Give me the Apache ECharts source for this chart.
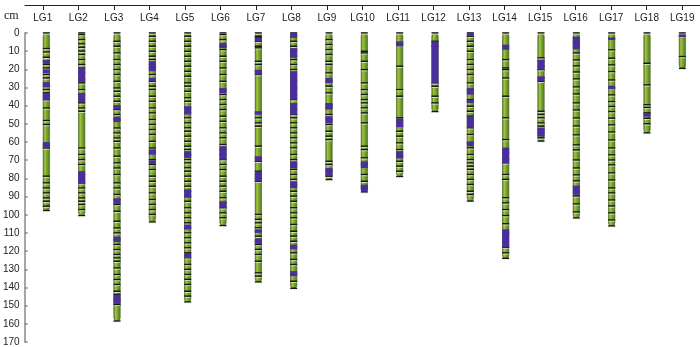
<!DOCTYPE html>
<html>
<head>
<meta charset="utf-8">
<script src="https://cdn.jsdelivr.net/npm/echarts@6/dist/echarts.min.js"></script>
<style>html,body{margin:0;padding:0;background:#fff}#c{width:700px;height:347px}</style>
</head>
<body>
<div id="c"></div>
<script>
const categories = ['LG1','LG2','LG3','LG4','LG5','LG6','LG7','LG8','LG9','LG10','LG11','LG12','LG13','LG14','LG15','LG16','LG17','LG18','LG19'];
const yTicks = [0,10,20,30,40,50,60,70,80,90,100,110,120,130,140,150,160,170];
const lengths = [97.7,100.5,158.5,104,148,106,137,140.5,80.7,87.5,79,43.3,92.5,124,59.5,101.8,106.2,55,19.5];

const lg1Markers = [0,8.6,10.5,13.4,15.6,17.4,19.3,22.9,24.8,29.3,31.2,33,34.8,36.7,41.3,48.2,50.4,61.8,63.3,78.8,82.5,85.3,88,90.8,92.6,95.3,97.7];
const lg2Markers = [0,0.9,3.7,6,7.9,10,11.9,14.7,17.4,19.3,22,25.7,27.5,31.2,33.9,38.5,41.3,43.1,63.3,66.9,69.7,72.4,77.9,82.5,85.3,88,90.8,92.6,94.4,97.2,100.5];
const lg3Markers = [0,4.6,7.3,11,14.7,17.4,20.2,22.9,26.6,30.3,32.1,34.8,37.6,40.3,42.2,44.9,47.7,52.3,55,57.8,59.6,63.3,67.8,71.5,74.3,77.9,82.5,85.3,88.9,91.7,94.4,98.1,103.6,107.3,110,113.7,116.4,119.2,121.9,123.8,125.6,129.3,132.9,135.7,138.4,142.1,143.9,146.7,149.4,158.5];
const lg4Markers = [0,1.8,4.6,7.3,10.1,12.8,14.7,17.4,19.3,22.9,26.6,29.3,31.2,34.8,37.6,41.3,44,47.7,50.4,53.2,55.9,59.6,63.3,66,69.7,72.4,75.2,78.8,81.6,84.3,88,91.7,94.4,97.2,99.9,104];
const lg5Markers = [0,1.8,4.6,7.3,10.1,12.8,15.6,18.3,21.1,23.8,27.5,29.3,32.1,35.7,37.6,41.2,44,46.7,49.5,52.2,54.1,56.8,59.6,62.3,64.2,66.9,69.7,71.5,74.2,76.1,78.8,81.6,84.3,87.1,89.8,92.6,96.2,99,101.7,104.5,107.2,110,112.7,115.5,118.2,121,123.7,127.4,130.1,132.9,135.6,138.4,142.1,144.8,148];
const lg6Markers = [0,0.9,3.7,7.3,9.2,12.8,15.6,19.3,22.9,26.6,31.2,33.9,36.7,39.4,42.2,45.8,48.6,52.2,55,57.7,61.4,64.2,66.9,69.7,72.4,75.2,78.8,81.6,84.3,87.1,90.7,93.5,96.2,99,101.7,106];
const lg7Markers = [0,1.8,2.7,4.6,7.3,8.2,15.6,17.4,21.1,22.9,44,46.7,49.5,51.3,62.3,68.7,70.6,76.1,77.9,79.7,81.6,99.9,102.6,104.5,107.2,109.1,111.8,114.6,116.4,119.1,121.9,125.6,132,133.8,137];
const lg8Markers = [0,0.9,4.6,7.3,10.1,12.8,14.7,17.4,20.2,22.9,26.6,30.2,33.9,36.7,39.4,42.2,44.9,46.7,49.5,52.2,55,57.7,60.5,63.2,66.9,69.7,72.4,75.1,77.9,80.6,83.4,87.1,89.8,92.6,96.2,99,101.7,105.4,109.1,111.8,114.6,118.2,121,124.6,127.4,132.9,136.6,140.5];
const lg9Markers = [0,3.7,6.4,9.2,11.9,15.6,17.4,22,26.6,29.3,33,39.4,41.2,44.9,47.7,50.4,54.1,56.8,58.7,70.6,72.4,76.1,78.8,80.7];
const lg10Markers = [0,10.1,11,15.6,20.2,27.5,31.2,33.9,36.7,38.5,41.2,44,49.5,62.3,64.2,68.7,72.4,77.9,81.6,85.2,87.5];
const lg11Markers = [0,5.5,6.4,18.3,31.2,34.8,46.7,48.6,51.3,54.1,56.8,60.5,64.2,67.8,70.6,73.3,76.1,79];
const lg12Markers = [0,4.6,7.3,27.5,29.3,34.8,38.5,43.3];
const lg13Markers = [0,1.8,4.6,7.3,10.1,14.7,17.4,20.2,22.9,27.5,31.2,36.7,40.3,43.1,45.8,52.2,55.9,60.5,63.2,66.9,69.7,71.5,73.3,75.1,77.9,80.6,83.4,87.1,88.9,92.5];
const lg14Markers = [0,14.7,19.3,20.2,24.8,34.8,46.7,58.7,64.2,66,69.7,71.5,77.9,80.6,90.7,93.5,97.2,100.5,105,110,118,121,124];
const lg15Markers = [0,13.7,15.6,18.3,20.2,24.7,26.6,43.1,44.9,46.7,49.5,51.3,53.2,55,57.7,59.5];
const lg16Markers = [0,2.7,5,7.7,11,14.9,18.2,21.5,25.3,29.7,33.6,38.5,42.4,46.8,51.2,56.1,61.6,64.4,69.9,74.3,78.1,81.4,84.7,87.5,89.7,94.1,98.5,101.8];
const lg17Markers = [0,3,9.3,13.9,17.6,21.3,25.9,30.4,34.1,37.8,40.5,43.3,46.9,50.6,54.5,58.9,63.3,67.1,69.9,72.6,77,80.9,85.3,88,91.9,95.2,99,102.9,106.2];
const lg18Markers = [0,16.7,28.6,39.5,41,44,47,50,55];
const lg19Markers = [0,1.5,13,19.5];

const lg1Purple = [[15,17],[20,22],[27,30],[33,37],[60,63]];
const lg2Purple = [[19,27],[33,38],[76,83]];
const lg3Purple = [[40,42],[46,49],[91,94],[112,115],[144,149]];
const lg4Purple = [[15.5,21],[24.7,26.6],[64,67],[70,72]];
const lg5Purple = [[40.3,44.9],[65,68.7],[86,90.7],[105.4,108.2],[121,123.8]];
const lg6Purple = [[5.5,8.3],[30.3,33],[62.3,69.7],[92.6,96.2]];
const lg7Purple = [[2.7,4.6],[20.2,22.9],[43,45],[67.8,70.6],[76.1,81.6],[108,110],[113,116]];
const lg8Purple = [[0,2.7],[8.3,13.7],[21,36.7],[38.5,44.9],[70.6,74.3],[81.6,85.3],[116.4,119.1],[131,133.8]];
const lg9Purple = [[24.7,27.5],[38.5,42.2],[45.8,49.5],[74.3,78.8]];
const lg10Purple = [[70.6,74.3],[83.4,87]];
const lg11Purple = [[4.6,7.3],[47,52],[65,69]];
const lg12Purple = [[4.6,27.5]];
const lg13Purple = [[0,1.8],[30.3,33.9],[36.7,38.5],[45.8,52.2],[59.6,62.3]];
const lg14Purple = [[6.4,9.2],[63,71.5],[108,118]];
const lg15Purple = [[14.7,20.2],[23.8,26.6],[52,57]];
const lg16Purple = [[2,9],[84,89]];
const lg17Purple = [[2.8,3.9],[29,31]];
const lg18Purple = [[44,46]];
const lg19Purple = [[0.8,2.2]];

const allMarkers = [lg1Markers,lg2Markers,lg3Markers,lg4Markers,lg5Markers,lg6Markers,lg7Markers,lg8Markers,lg9Markers,lg10Markers,lg11Markers,lg12Markers,lg13Markers,lg14Markers,lg15Markers,lg16Markers,lg17Markers,lg18Markers,lg19Markers];
const allPurple = [lg1Purple,lg2Purple,lg3Purple,lg4Purple,lg5Purple,lg6Purple,lg7Purple,lg8Purple,lg9Purple,lg10Purple,lg11Purple,lg12Purple,lg13Purple,lg14Purple,lg15Purple,lg16Purple,lg17Purple,lg18Purple,lg19Purple];

const markerData = [];
allMarkers.forEach((arr, i) => arr.forEach(v => markerData.push([i, v])));
const purpleData = [];
allPurple.forEach((arr, i) => arr.forEach(s => purpleData.push([i, s[0], s[1]])));

const BAR_W = 7;
const font = 'Liberation Sans, Arial, sans-serif';

const chart = echarts.init(document.getElementById('c'));
chart.setOption({
  animation: false,
  grid: [
    {left: 25, right: 0, top: 4, height: 1},
    {left: 25, right: 0, top: 33, bottom: 5}
  ],
  xAxis: [
    {gridIndex: 0, type: 'category', data: categories, position: 'top', boundaryGap: true,
     axisLine: {show: true, lineStyle: {color: '#222', width: 1}},
     axisTick: {show: true, inside: true, alignWithLabel: true, length: 5, lineStyle: {color: '#222'}},
     axisLabel: {inside: true, margin: 9, color: '#222', fontSize: 10, fontFamily: font, interval: 0}},
    {gridIndex: 1, type: 'category', data: categories, boundaryGap: true, show: false}
  ],
  yAxis: [
    {gridIndex: 0, type: 'value', show: false},
    {gridIndex: 1, type: 'value', min: 0, max: 170, interval: 10, inverse: true, offset: 4,
     axisLine: {show: true, lineStyle: {color: '#888', width: 1.5}},
     axisTick: {show: true, inside: true, length: 3, lineStyle: {color: '#888', width: 1.5}},
     splitLine: {show: false},
     axisLabel: {margin: 5, color: '#222', fontSize: 10, fontFamily: font,
       formatter: v => yTicks.indexOf(v) >= 0 ? String(v) : ''}}
  ],
  graphic: [{type: 'text', left: 4, top: 10, style: {text: 'cm', fontFamily: 'Liberation Serif, serif', fontSize: 12, fill: '#222'}}],
  series: [
    {type: 'bar', xAxisIndex: 1, yAxisIndex: 1, data: lengths, barWidth: BAR_W, z: 1,
     itemStyle: {
       borderRadius: 3, borderColor: '#3f5a1c', borderWidth: 0.6,
       color: new echarts.graphic.LinearGradient(0, 0, 1, 0, [
         {offset: 0, color: '#4d7a1e'},
         {offset: 0.3, color: '#a7c43e'},
         {offset: 0.55, color: '#7aa632'},
         {offset: 1, color: '#4c7a1f'}
       ])
     }},
    {type: 'custom', xAxisIndex: 1, yAxisIndex: 1, data: markerData, z: 2,
     renderItem: (params, api) => {
       const p = api.coord([api.value(0), api.value(1)]);
       return {type: 'group', children: [
         {type: 'rect', shape: {x: p[0] - BAR_W / 2, y: p[1] - 0.8, width: BAR_W, height: 1.5}, style: {fill: '#161616'}},
         {type: 'rect', shape: {x: p[0] - BAR_W / 2 + 0.5, y: p[1] + 0.7, width: BAR_W - 1, height: 0.9}, style: {fill: 'rgba(235,240,225,0.8)'}}
       ]};
     }},
    {type: 'custom', xAxisIndex: 1, yAxisIndex: 1, data: purpleData, z: 3,
     renderItem: (params, api) => {
       const c = api.value(0);
       const p0 = api.coord([c, api.value(1)]);
       const p1 = api.coord([c, api.value(2)]);
       return {type: 'rect', shape: {x: p0[0] - BAR_W / 2, y: p0[1], width: BAR_W, height: Math.max(p1[1] - p0[1], 1)},
               style: {fill: '#4a2f9c'}};
     }}
  ]
});
</script>
</body>
</html>
